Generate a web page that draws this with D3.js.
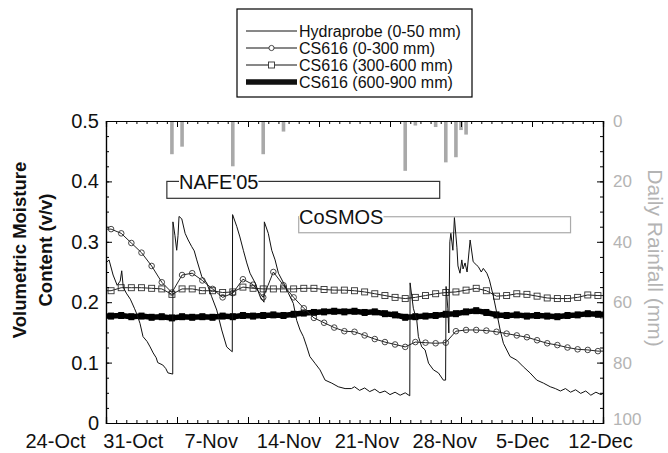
<!DOCTYPE html>
<html lang="en">
<head>
<meta charset="utf-8">
<script src="https://d3js.org/d3.v7.min.js"></script>
<style>
  body { margin: 0; background: #fff; }
  svg { display: block; font-family: "Liberation Sans", Arial, sans-serif; }
</style>
</head>
<body>
<script>
// ---------- data (days counted from 24-Oct-2005) ----------
var startDay = Date.UTC(2005, 9, 24);
var nDays = 49;

var moistureTicks = [0, 0.1, 0.2, 0.3, 0.4, 0.5];
var rainTicks = [0, 20, 40, 60, 80, 100];
var dateLabels = ["24-Oct", "31-Oct", "7-Nov", "14-Nov", "21-Nov", "28-Nov", "5-Dec", "12-Dec"];

// daily rainfall (mm), bars hanging from the top
var rainDays = [6.5, 7.5, 12.5, 15.5, 17.5, 29.5, 30.5, 32.5, 33.5, 34.5, 35.0, 35.5];
var rainMm   = [11, 8.5, 15, 11, 3.5, 16.5, 1.5, 2, 13.7, 12, 3, 4.5];

// Hydraprobe 0-50 mm: [day, v/v]
var hydraprobe = [
  [0,0.265],[0.3,0.27],[0.7,0.245],[1.1,0.228],[1.4,0.235],[1.55,0.252],[1.7,0.225],[2.0,0.215],[2.4,0.205],
  [2.8,0.19],[3.05,0.18],[3.35,0.165],[3.65,0.143],[4.05,0.135],[4.35,0.126],[4.65,0.116],[4.95,0.108],
  [5.1,0.1],[5.6,0.096],[5.9,0.09],[6.1,0.083],[6.58,0.081],
  [6.6,0.333],[6.8,0.31],[6.97,0.286],[7.1,0.31],[7.2,0.342],[7.47,0.338],[7.8,0.314],[8.1,0.303],
  [8.45,0.292],[8.7,0.285],[8.95,0.27],[9.45,0.242],[9.93,0.232],[10.42,0.209],[10.92,0.187],
  [11.41,0.154],[11.9,0.126],[12.23,0.121],[12.45,0.118],
  [12.48,0.345],[12.9,0.325],[13.2,0.308],[13.54,0.286],[13.88,0.265],[14.2,0.248],[14.7,0.232],
  [15.2,0.209],[15.58,0.2],
  [15.61,0.333],[16.0,0.314],[16.34,0.286],[16.67,0.27],[17.0,0.248],[17.5,0.232],[17.98,0.215],
  [18.47,0.198],[18.8,0.17],[19.13,0.154],[19.46,0.143],[19.8,0.126],[20.1,0.11],[20.6,0.099],
  [21.1,0.088],[21.6,0.071],[22.26,0.066],[22.9,0.06],[23.57,0.057],[24.2,0.057],
  [24.5,0.06],[25.0,0.054],[25.5,0.058],[26.0,0.052],[26.5,0.056],[27.0,0.05],[27.5,0.053],
  [28.0,0.047],[28.5,0.051],[29.0,0.046],[29.5,0.05],[29.95,0.045],
  [29.98,0.232],[30.3,0.19],[30.64,0.17],[30.8,0.143],[31.13,0.126],[31.46,0.121],[31.8,0.099],
  [32.28,0.088],[32.77,0.083],[33.26,0.071],[33.48,0.071],
  [33.53,0.226],[33.7,0.19],[33.8,0.149],[33.9,0.3],[34.0,0.314],[34.2,0.286],[34.35,0.34],
  [34.6,0.29],[34.7,0.26],[34.9,0.248],[35.08,0.27],[35.2,0.255],[35.4,0.265],[35.6,0.25],
  [35.9,0.303],[36.2,0.267],[36.5,0.262],[36.7,0.259],[37.0,0.25],[37.2,0.256],[37.55,0.248],
  [37.8,0.237],[38.2,0.209],[38.53,0.182],[38.86,0.154],[39.18,0.132],[39.84,0.11],[40.5,0.104],
  [41.15,0.093],[41.8,0.083],[42.47,0.071],[43.13,0.066],[43.8,0.06],
  [44.3,0.057],[44.8,0.053],[45.3,0.057],[45.8,0.051],[46.3,0.055],[46.8,0.049],[47.3,0.053],
  [47.8,0.046],[48.3,0.051],[48.8,0.047],[49,0.049]
];

// CS616 daily readings (at midday of each day)
var cs0_300 = [0.321,0.314,0.298,0.282,0.26,0.233,0.216,0.245,0.248,0.236,0.222,0.208,0.215,
  0.238,0.229,0.208,0.25,0.228,0.208,0.19,0.174,0.166,0.158,0.152,0.151,0.145,0.139,0.134,0.13,
  0.126,0.134,0.133,0.132,0.133,0.152,0.154,0.154,0.153,0.151,0.148,0.145,0.142,0.137,0.132,
  0.129,0.125,0.122,0.121,0.119];
var cs300_600 = [0.219,0.224,0.224,0.224,0.223,0.222,0.213,0.222,0.222,0.219,0.219,0.216,0.217,
  0.225,0.223,0.222,0.222,0.222,0.222,0.223,0.223,0.221,0.22,0.22,0.219,0.217,0.214,0.211,0.208,
  0.206,0.208,0.211,0.214,0.216,0.217,0.22,0.223,0.219,0.21,0.211,0.214,0.213,0.21,0.207,0.206,
  0.206,0.208,0.212,0.211];
var cs600_900 = [0.177,0.178,0.176,0.177,0.175,0.176,0.174,0.176,0.175,0.176,0.175,0.177,0.176,
  0.178,0.177,0.178,0.179,0.178,0.18,0.182,0.183,0.184,0.185,0.184,0.185,0.183,0.184,0.181,0.179,
  0.175,0.176,0.177,0.178,0.18,0.181,0.184,0.186,0.183,0.179,0.178,0.179,0.177,0.178,0.177,0.176,
  0.178,0.179,0.181,0.18];

var campaigns = ["NAFE'05", "CoSMOS"];
var campaignStart = [6, 19];
var campaignEnd = [32.9, 45.8];

var legendNames = ["Hydraprobe (0-50 mm)", "CS616 (0-300 mm)", "CS616 (300-600 mm)", "CS616 (600-900 mm)"];

// ---------- layout ----------
var W = 668, H = 453;
var pLeft = 106, pRight = 603, pTop = 121, pBottom = 423;

function toDate(d) { return new Date(startDay + d * 864e5); }

var svg = d3.select("body").append("svg").attr("width", W).attr("height", H);

var x = d3.scaleUtc().domain([toDate(0), toDate(nDays)]).range([pLeft, pRight]);
var y = d3.scaleLinear().domain([0, 0.5]).range([pBottom, pTop]);
var rainY = d3.scaleLinear().domain([0, 100]).range([pTop, pBottom]);
// labels of the date axis are spread a little wider than the ticks in the original
var xLab = d3.scaleUtc().domain(x.domain()).range([pLeft - 51, pRight - 3]);

var weeks = d3.utcMonday.range(toDate(0), toDate(nDays + 0.1));
var days = d3.utcDay.range(toDate(0), toDate(nDays + 0.1));

// rainfall bars
svg.append("g").selectAll("rect")
  .data(rainDays)
  .enter().append("rect")
  .attr("x", function(d) { return x(toDate(d)) - 1.8; })
  .attr("y", rainY(0))
  .attr("width", 3.6)
  .attr("height", function(d, i) { return rainY(rainMm[i]) - rainY(0); })
  .attr("fill", "#a9a9a9");

// campaign boxes
var boxTop = [0.4, 0.3415], boxBottom = [0.372, 0.315];
var boxColor = ["#333", "#aaa"];
var textX = [179, 299];
campaigns.forEach(function(name, i) {
  var g = svg.append("g");
  g.append("rect")
    .attr("x", x(toDate(campaignStart[i])))
    .attr("y", y(boxTop[i]))
    .attr("width", x(toDate(campaignEnd[i])) - x(toDate(campaignStart[i])))
    .attr("height", y(boxBottom[i]) - y(boxTop[i]))
    .attr("fill", "none")
    .attr("stroke", boxColor[i])
    .attr("stroke-width", 1.2);
  var t = g.append("text")
    .attr("x", textX[i])
    .attr("y", y(boxTop[i]) + 7.5)
    .attr("font-size", 20)
    .attr("fill", "#111")
    .text(name);
  var bb = t.node().getBBox();
  g.insert("rect", "text")
    .attr("x", bb.x).attr("y", y(boxTop[i]) - 1.5)
    .attr("width", bb.width).attr("height", 3)
    .attr("fill", "#fff");
});

// series
var line = d3.line()
  .x(function(d) { return x(toDate(d[0])); })
  .y(function(d) { return y(d[1]); });

function dailyPoints(vals) {
  var pts = vals.map(function(v, k) { return [k + 0.5, v]; });
  return [[0, vals[0]]].concat(pts, [[nDays, vals[vals.length - 1]]]);
}

svg.append("path").datum(dailyPoints(cs600_900))
  .attr("d", line).attr("fill", "none").attr("stroke", "#000")
  .attr("stroke-width", 5.5).attr("stroke-linejoin", "round");
svg.append("g").selectAll("rect")
  .data(cs600_900).enter().append("rect")
  .attr("x", function(d, k) { return x(toDate(k + 0.5)) - 3; })
  .attr("y", function(d) { return y(d) - 3.5; })
  .attr("width", 6).attr("height", 7)
  .attr("fill", "#000");

svg.append("path").datum(dailyPoints(cs300_600))
  .attr("d", line).attr("fill", "none").attr("stroke", "#222").attr("stroke-width", 1);
svg.append("g").selectAll("rect")
  .data(cs300_600).enter().append("rect")
  .attr("x", function(d, k) { return x(toDate(k + 0.5)) - 3; })
  .attr("y", function(d) { return y(d) - 3; })
  .attr("width", 6).attr("height", 6)
  .attr("fill", "none").attr("stroke", "#333").attr("stroke-width", 0.9);

svg.append("path").datum(dailyPoints(cs0_300))
  .attr("d", line).attr("fill", "none").attr("stroke", "#222").attr("stroke-width", 1);
svg.append("g").selectAll("circle")
  .data(cs0_300).enter().append("circle")
  .attr("cx", function(d, k) { return x(toDate(k + 0.5)); })
  .attr("cy", function(d) { return y(d); })
  .attr("r", 2.8)
  .attr("fill", "none").attr("stroke", "#333").attr("stroke-width", 0.9);

svg.append("path").datum(hydraprobe)
  .attr("d", line).attr("fill", "none").attr("stroke", "#111").attr("stroke-width", 1);

// ---------- axes ----------
function styleAxis(g) {
  g.selectAll(".domain").attr("stroke", "#000").attr("stroke-width", 1.2);
  g.selectAll(".tick line").attr("stroke", "#000");
}

// minor ticks
svg.append("g").attr("transform", "translate(" + pLeft + ",0)")
  .call(d3.axisLeft(y).tickValues(d3.range(0, 0.5001, 0.025)).tickSize(-3).tickFormat(""))
  .call(styleAxis);
svg.append("g").attr("transform", "translate(" + pRight + ",0)")
  .call(d3.axisRight(rainY).tickValues(d3.range(0, 100.1, 5)).tickSize(-3).tickFormat(""))
  .call(styleAxis);
svg.append("g").attr("transform", "translate(0," + pBottom + ")")
  .call(d3.axisBottom(x).tickValues(days).tickSize(-3).tickFormat(""))
  .call(styleAxis);
svg.append("g").attr("transform", "translate(0," + pTop + ")")
  .call(d3.axisTop(x).tickValues(days).tickSize(-3).tickFormat(""))
  .call(styleAxis);

// major ticks
svg.append("g").attr("transform", "translate(0," + pTop + ")")
  .call(d3.axisTop(x).tickValues(weeks).tickSize(-6).tickFormat(""))
  .call(styleAxis);
svg.append("g").attr("transform", "translate(0," + pBottom + ")")
  .call(d3.axisBottom(x).tickValues(weeks).tickSize(-6).tickFormat(""))
  .call(styleAxis);

var yAxis = svg.append("g").attr("transform", "translate(" + pLeft + ",0)")
  .call(d3.axisLeft(y).tickValues(moistureTicks).tickSize(-6).tickPadding(7)
    .tickFormat(function(d) { return d === 0 ? "0" : d3.format(".1f")(d); }))
  .call(styleAxis);
yAxis.selectAll("text").attr("font-size", 20).attr("fill", "#111")
  .attr("font-family", "Liberation Sans, Arial, sans-serif");

var rAxis = svg.append("g").attr("transform", "translate(" + pRight + ",0)")
  .call(d3.axisRight(rainY).tickValues(rainTicks).tickSize(-6).tickPadding(10))
  .call(styleAxis);
rAxis.selectAll("text").attr("font-size", 17).attr("fill", "#b4b4b4")
  .attr("font-family", "Liberation Sans, Arial, sans-serif");
rAxis.selectAll(".tick").filter(function(d) { return d === 100; })
  .select("text").attr("dy", "0.1em");

var xAxis = svg.append("g").attr("transform", "translate(0," + pBottom + ")")
  .call(d3.axisBottom(xLab).tickValues(weeks).tickSize(0).tickPadding(11)
    .tickFormat(function(d, i) { return dateLabels[i]; }));
xAxis.select(".domain").remove();
xAxis.selectAll("text").attr("font-size", 20).attr("fill", "#111")
  .attr("font-family", "Liberation Sans, Arial, sans-serif");

// axis titles
svg.append("text")
  .attr("transform", "translate(26,250) rotate(-90)")
  .attr("text-anchor", "middle")
  .attr("font-size", 18.5).attr("font-weight", "bold").attr("fill", "#111")
  .selectAll("tspan").data(["Volumetric Moisture", "Content (v/v)"])
  .enter().append("tspan")
  .attr("x", 0).attr("dy", function(d, i) { return i ? 26 : 0; })
  .text(function(d) { return d; });

svg.append("text")
  .attr("transform", "translate(648,258) rotate(90)")
  .attr("text-anchor", "middle")
  .attr("font-size", 21).attr("fill", "#b4b4b4")
  .text("Daily Rainfall (mm)");

// ---------- legend ----------
var lg = svg.append("g");
lg.append("rect").attr("x", 237).attr("y", 9).attr("width", 235).attr("height", 88)
  .attr("fill", "#fff").attr("stroke", "#000").attr("stroke-width", 1.2);
var legendWidth = [1, 1, 1, 5.5];
legendNames.forEach(function(name, i) {
  var ly = 31 + i * 17;
  lg.append("line").attr("x1", 246).attr("x2", 297).attr("y1", ly).attr("y2", ly)
    .attr("stroke", "#111").attr("stroke-width", legendWidth[i]);
  if (i === 1) {
    lg.append("circle").attr("cx", 271.5).attr("cy", ly).attr("r", 2.6)
      .attr("fill", "#fff").attr("stroke", "#333").attr("stroke-width", 0.9);
  }
  if (i === 2) {
    lg.append("rect").attr("x", 268.5).attr("y", ly - 3).attr("width", 6).attr("height", 6)
      .attr("fill", "#fff").attr("stroke", "#333").attr("stroke-width", 0.9);
  }
  lg.append("text").attr("x", 299).attr("y", ly + 6)
    .attr("font-size", 16).attr("fill", "#111").text(name);
});
</script>
</body>
</html>
